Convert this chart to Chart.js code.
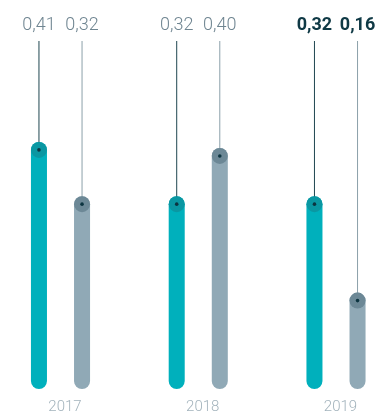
<!DOCTYPE html>
<html>
<head>
<meta charset="utf-8">
<script src="https://cdn.jsdelivr.net/npm/chart.js@4"></script>
<style>
html,body{margin:0;padding:0;background:#fff;}
#wrap{width:378px;height:415px;position:relative;}
</style>
</head>
<body>
<div id="wrap"><canvas id="c"></canvas></div>
<script>
const categories = ['2017', '2018', '2019'];
const seriesA = [0.41, 0.32, 0.32];   // teal
const seriesB = [0.32, 0.40, 0.16];   // grey-blue
const highlightCategory = '2019';

const colors = {
  barA: '#00b0bc', capA: '#0a97a2', lineA: '#1f4650',
  barB: '#90a9b6', capB: '#6c8896', lineB: '#8ca0aa',
  dot: '#0c3440'
};

const fmt = v => v.toFixed(2).replace('.', ',');

const markerPlugin = {
  id: 'markers',
  afterDatasetsDraw(chart) {
    const ctx = chart.ctx;
    chart.data.datasets.forEach((ds, di) => {
      const meta = chart.getDatasetMeta(di);
      meta.data.forEach((el, i) => {
        const x = el.x, y = el.y + 8;
        ctx.save();
        ctx.strokeStyle = ds.lineColor;
        ctx.lineWidth = 1;
        ctx.beginPath();
        ctx.moveTo(x, 41);
        ctx.lineTo(x, y);
        ctx.stroke();
        ctx.fillStyle = ds.capColor;
        ctx.beginPath();
        ctx.arc(x, y, 8, 0, Math.PI * 2);
        ctx.fill();
        ctx.fillStyle = colors.dot;
        ctx.beginPath();
        ctx.arc(x, y, 1.8, 0, Math.PI * 2);
        ctx.fill();
        const bold = chart.data.labels[i] === highlightCategory;
        ctx.font = (bold ? '700 ' : '300 ') + '18px Roboto';
        ctx.fillStyle = bold ? '#0f3945' : '#6f8591';
        ctx.textAlign = 'center';
        ctx.textBaseline = 'middle';
        ctx.fillText(fmt(ds.data[i]), x, 25);
        ctx.restore();
      });
    });
  }
};

new Chart(document.getElementById('c'), {
  type: 'bar',
  data: {
    labels: categories,
    datasets: [
      { data: seriesA, backgroundColor: colors.barA, capColor: colors.capA, lineColor: colors.lineA,
        borderRadius: 8, borderSkipped: false, clip: false,
        categoryPercentage: 0.6255, barPercentage: 0.372 },
      { data: seriesB, backgroundColor: colors.barB, capColor: colors.capB, lineColor: colors.lineB,
        borderRadius: 8, borderSkipped: false, clip: false,
        categoryPercentage: 0.6255, barPercentage: 0.372 }
    ]
  },
  options: {
    responsive: true,
    maintainAspectRatio: false,
    animation: false,
    layout: { padding: { left: 60.5, right: 42, top: 0, bottom: -10 } },
    plugins: { legend: { display: false }, tooltip: { enabled: false } },
    scales: {
      x: {
        offset: false,
        grid: { display: false, drawTicks: false },
        border: { display: false },
        ticks: { padding: 9, labelOffset: 4.5, color: '#a3b3bc', font: { family: 'Roboto', size: 15, weight: '300' }, maxRotation: 0, autoSkip: false }
      },
      y: { display: false, min: 0, max: 0.6455 }
    }
  },
  plugins: [markerPlugin]
});
</script>
</body>
</html>
